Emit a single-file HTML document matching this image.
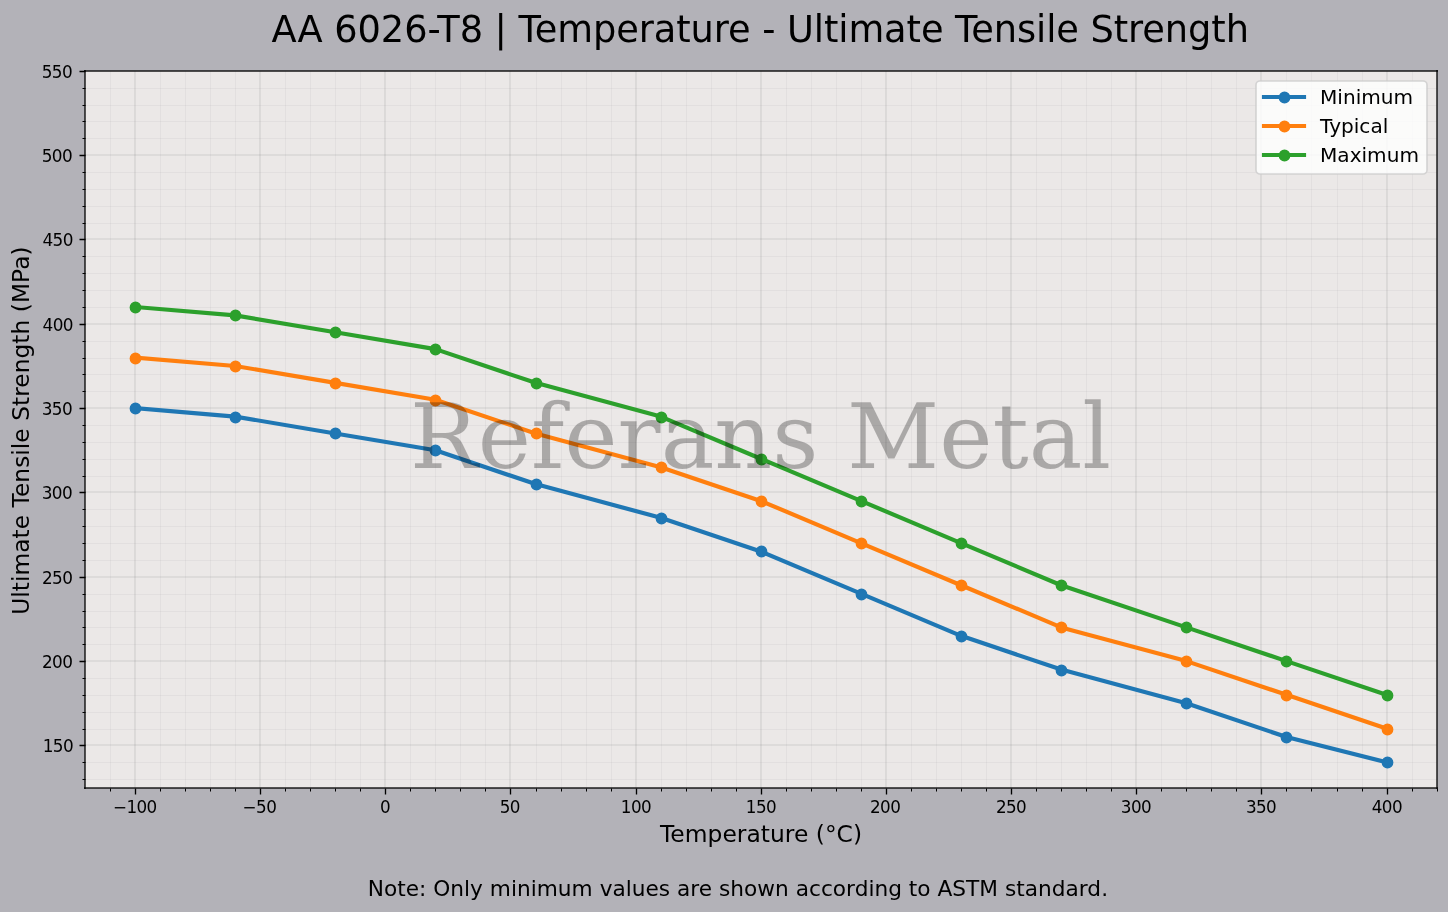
<!DOCTYPE html>
<html lang="en">
<head>
<meta charset="utf-8">
<title>AA 6026-T8 | Temperature - Ultimate Tensile Strength</title>
<style>
html,body{margin:0;padding:0;background:#b3b2b8;overflow:hidden}
svg{display:block}
text{font-family:"DejaVu Sans","Liberation Sans",sans-serif;fill:#000}
text.wm{font-family:"DejaVu Serif","Liberation Serif",serif}
</style>
</head>
<body>
<svg width="1448" height="912" viewBox="0 0 1448 912">
<rect x="0" y="0" width="1448" height="912" fill="#b3b2b8"/>
<rect x="85" y="71" width="1352" height="717" fill="#ebe8e7"/>
<g stroke="#808080" stroke-opacity="0.1" stroke-width="0.83" fill="none">
<path d="M110.5 71V788M160.5 71V788M185.5 71V788M210.5 71V788M235.5 71V788M285.5 71V788M310.5 71V788M335.5 71V788M360.5 71V788M410.5 71V788M435.5 71V788M460.5 71V788M485.5 71V788M536.5 71V788M561.5 71V788M586.5 71V788M611.5 71V788M661.5 71V788M686.5 71V788M711.5 71V788M736.5 71V788M786.5 71V788M811.5 71V788M836.5 71V788M861.5 71V788M911.5 71V788M936.5 71V788M961.5 71V788M986.5 71V788M1036.5 71V788M1061.5 71V788M1086.5 71V788M1111.5 71V788M1161.5 71V788M1186.5 71V788M1211.5 71V788M1236.5 71V788M1286.5 71V788M1311.5 71V788M1337.5 71V788M1362.5 71V788M1412.5 71V788"/>
<path d="M85 779.5H1437M85 762.5H1437M85 729.5H1437M85 712.5H1437M85 695.5H1437M85 678.5H1437M85 644.5H1437M85 627.5H1437M85 611.5H1437M85 594.5H1437M85 560.5H1437M85 543.5H1437M85 526.5H1437M85 509.5H1437M85 476.5H1437M85 459.5H1437M85 442.5H1437M85 425.5H1437M85 391.5H1437M85 374.5H1437M85 358.5H1437M85 341.5H1437M85 307.5H1437M85 290.5H1437M85 273.5H1437M85 256.5H1437M85 223.5H1437M85 206.5H1437M85 189.5H1437M85 172.5H1437M85 138.5H1437M85 121.5H1437M85 105.5H1437M85 88.5H1437"/>
</g>
<g stroke="#808080" stroke-opacity="0.17" stroke-width="1.67" fill="none">
<path d="M135 71V788M260 71V788M385 71V788M510 71V788M636 71V788M761 71V788M886 71V788M1011 71V788M1136 71V788M1261 71V788M1387 71V788"/>
<path d="M85 745H1437M85 661H1437M85 577H1437M85 492H1437M85 408H1437M85 324H1437M85 239H1437M85 155H1437M85 71H1437"/>
</g>
<polyline points="135.01,408.14 235.14,416.58 335.26,433.44 435.39,450.31 535.52,484.04 660.67,517.76 760.8,551.49 860.93,593.66 961.05,635.82 1061.18,669.55 1186.34,703.28 1286.46,737.01 1386.59,762.3" fill="none" stroke="#1f77b4" stroke-width="4.17" stroke-linejoin="round" stroke-linecap="square"/>
<g fill="#1f77b4" stroke="#1f77b4" stroke-width="1.67"><circle cx="135.5" cy="408.5" r="5.06"/><circle cx="235.5" cy="417.5" r="5.06"/><circle cx="335.5" cy="433.5" r="5.06"/><circle cx="435.5" cy="450.5" r="5.06"/><circle cx="536.5" cy="484.5" r="5.06"/><circle cx="661.5" cy="518.5" r="5.06"/><circle cx="761.5" cy="551.5" r="5.06"/><circle cx="861.5" cy="594.5" r="5.06"/><circle cx="961.5" cy="636.5" r="5.06"/><circle cx="1061.5" cy="670.5" r="5.06"/><circle cx="1186.5" cy="703.5" r="5.06"/><circle cx="1286.5" cy="737.5" r="5.06"/><circle cx="1387.5" cy="762.5" r="5.06"/></g>
<polyline points="135.01,357.55 235.14,365.98 335.26,382.85 435.39,399.71 535.52,433.44 660.67,467.17 760.8,500.9 860.93,543.06 961.05,585.22 1061.18,627.39 1186.34,661.11 1286.46,694.84 1386.59,728.57" fill="none" stroke="#ff7f0e" stroke-width="4.17" stroke-linejoin="round" stroke-linecap="square"/>
<g fill="#ff7f0e" stroke="#ff7f0e" stroke-width="1.67"><circle cx="135.5" cy="358.5" r="5.06"/><circle cx="235.5" cy="366.5" r="5.06"/><circle cx="335.5" cy="383.5" r="5.06"/><circle cx="435.5" cy="400.5" r="5.06"/><circle cx="536.5" cy="433.5" r="5.06"/><circle cx="661.5" cy="467.5" r="5.06"/><circle cx="761.5" cy="501.5" r="5.06"/><circle cx="861.5" cy="543.5" r="5.06"/><circle cx="961.5" cy="585.5" r="5.06"/><circle cx="1061.5" cy="627.5" r="5.06"/><circle cx="1186.5" cy="661.5" r="5.06"/><circle cx="1286.5" cy="695.5" r="5.06"/><circle cx="1387.5" cy="729.5" r="5.06"/></g>
<polyline points="135.01,306.96 235.14,315.39 335.26,332.25 435.39,349.12 535.52,382.85 660.67,416.58 760.8,458.74 860.93,500.9 961.05,543.06 1061.18,585.22 1186.34,627.39 1286.46,661.11 1386.59,694.84" fill="none" stroke="#2ca02c" stroke-width="4.17" stroke-linejoin="round" stroke-linecap="square"/>
<g fill="#2ca02c" stroke="#2ca02c" stroke-width="1.67"><circle cx="135.5" cy="307.5" r="5.06"/><circle cx="235.5" cy="315.5" r="5.06"/><circle cx="335.5" cy="332.5" r="5.06"/><circle cx="435.5" cy="349.5" r="5.06"/><circle cx="536.5" cy="383.5" r="5.06"/><circle cx="661.5" cy="417.5" r="5.06"/><circle cx="761.5" cy="459.5" r="5.06"/><circle cx="861.5" cy="501.5" r="5.06"/><circle cx="961.5" cy="543.5" r="5.06"/><circle cx="1061.5" cy="585.5" r="5.06"/><circle cx="1186.5" cy="627.5" r="5.06"/><circle cx="1286.5" cy="661.5" r="5.06"/><circle cx="1387.5" cy="695.5" r="5.06"/></g>
<text class="wm" id="wm" x="760.55" y="467.8" font-size="90.0" letter-spacing="0" text-anchor="middle" fill-opacity="0.275">Referans Metal</text>
<g stroke="#000" fill="none">
<path stroke-width="1.33" d="M135.5 788.5v6M260.5 788.5v6M385.5 788.5v6M510.5 788.5v6M636.5 788.5v6M761.5 788.5v6M886.5 788.5v6M1011.5 788.5v6M1136.5 788.5v6M1261.5 788.5v6M1387.5 788.5v6M85.5 745.5h-6M85.5 661.5h-6M85.5 577.5h-6M85.5 492.5h-6M85.5 408.5h-6M85.5 324.5h-6M85.5 239.5h-6M85.5 155.5h-6M85.5 71.5h-6"/>
<path stroke-width="1" d="M110.5 788.5v3M160.5 788.5v3M185.5 788.5v3M210.5 788.5v3M235.5 788.5v3M285.5 788.5v3M310.5 788.5v3M335.5 788.5v3M360.5 788.5v3M410.5 788.5v3M435.5 788.5v3M460.5 788.5v3M485.5 788.5v3M536.5 788.5v3M561.5 788.5v3M586.5 788.5v3M611.5 788.5v3M661.5 788.5v3M686.5 788.5v3M711.5 788.5v3M736.5 788.5v3M786.5 788.5v3M811.5 788.5v3M836.5 788.5v3M861.5 788.5v3M911.5 788.5v3M936.5 788.5v3M961.5 788.5v3M986.5 788.5v3M1036.5 788.5v3M1061.5 788.5v3M1086.5 788.5v3M1111.5 788.5v3M1161.5 788.5v3M1186.5 788.5v3M1211.5 788.5v3M1236.5 788.5v3M1286.5 788.5v3M1311.5 788.5v3M1337.5 788.5v3M1362.5 788.5v3M1412.5 788.5v3M1437.5 788.5v3M85.5 779.5h-3M85.5 762.5h-3M85.5 729.5h-3M85.5 712.5h-3M85.5 695.5h-3M85.5 678.5h-3M85.5 644.5h-3M85.5 627.5h-3M85.5 611.5h-3M85.5 594.5h-3M85.5 560.5h-3M85.5 543.5h-3M85.5 526.5h-3M85.5 509.5h-3M85.5 476.5h-3M85.5 459.5h-3M85.5 442.5h-3M85.5 425.5h-3M85.5 391.5h-3M85.5 374.5h-3M85.5 358.5h-3M85.5 341.5h-3M85.5 307.5h-3M85.5 290.5h-3M85.5 273.5h-3M85.5 256.5h-3M85.5 223.5h-3M85.5 206.5h-3M85.5 189.5h-3M85.5 172.5h-3M85.5 138.5h-3M85.5 121.5h-3M85.5 105.5h-3M85.5 88.5h-3"/>
</g>
<g stroke="#000" stroke-opacity="0.65" stroke-width="2.0" stroke-linecap="square" fill="none">
<path d="M85 71V788"/>
<path d="M1437 71V788"/>
<path d="M85 788H1437"/>
<path d="M85 71H1437"/>
</g>
<g font-size="16.77" letter-spacing="-0.575" text-anchor="middle">
<text x="134.79" y="812.8">−100</text>
<text x="259.42" y="812.8">−50</text>
<text x="385.05" y="812.8">0</text>
<text x="509.74" y="812.8">50</text>
<text x="635.98" y="812.8">100</text>
<text x="760.97" y="812.8">150</text>
<text x="885.1" y="812.8">200</text>
<text x="1011.08" y="812.8">250</text>
<text x="1135.99" y="812.8">300</text>
<text x="1261.04" y="812.8">350</text>
<text x="1386.89" y="812.8">400</text>
</g>
<g font-size="16.87" letter-spacing="-0.6" text-anchor="end">
<text x="73.1" y="751.9">150</text>
<text x="72.28" y="667.9">200</text>
<text x="72.28" y="583.9">250</text>
<text x="72.1" y="498.9">300</text>
<text x="72.1" y="414.9">350</text>
<text x="72.92" y="330.9">400</text>
<text x="72.88" y="245.9">450</text>
<text x="72.1" y="161.9">500</text>
<text x="72.1" y="77.9">550</text>
</g>
<text id="title" x="760.17" y="41.5" font-size="36.75" letter-spacing="-0.07" text-anchor="middle">AA 6026-T8 | Temperature - Ultimate Tensile Strength</text>
<text id="xlabel" x="761.08" y="841.5" font-size="23.38" letter-spacing="0.02" text-anchor="middle">Temperature (°C)</text>
<text id="ylabel" transform="translate(28.75 430.6) rotate(-90)" font-size="23.33" letter-spacing="0.035" text-anchor="middle">Ultimate Tensile Strength (MPa)</text>
<text id="note" x="737.9" y="895.5" font-size="21.67" letter-spacing="0.016" text-anchor="middle">Note: Only minimum values are shown according to ASTM standard.</text>
<rect x="1256" y="81" width="171" height="93" rx="4" ry="4" fill="#fff" fill-opacity="0.8" stroke="#ccc" stroke-opacity="0.8" stroke-width="1.67"/>
<path d="M1264 97H1304" stroke="#1f77b4" stroke-width="4.17" stroke-linecap="square" fill="none"/>
<circle cx="1284.5" cy="97.5" r="5.06" fill="#1f77b4" stroke="#1f77b4" stroke-width="1.67"/>
<text x="1320" y="103.8" font-size="20.1" letter-spacing="0">Minimum</text>
<path d="M1264 126H1304" stroke="#ff7f0e" stroke-width="4.17" stroke-linecap="square" fill="none"/>
<circle cx="1284.5" cy="126.5" r="5.06" fill="#ff7f0e" stroke="#ff7f0e" stroke-width="1.67"/>
<text x="1320" y="132.8" font-size="20.1" letter-spacing="0">Typical</text>
<path d="M1264 155H1304" stroke="#2ca02c" stroke-width="4.17" stroke-linecap="square" fill="none"/>
<circle cx="1284.5" cy="155.5" r="5.06" fill="#2ca02c" stroke="#2ca02c" stroke-width="1.67"/>
<text x="1320" y="161.8" font-size="20.1" letter-spacing="0">Maximum</text>
</svg>
</body>
</html>
